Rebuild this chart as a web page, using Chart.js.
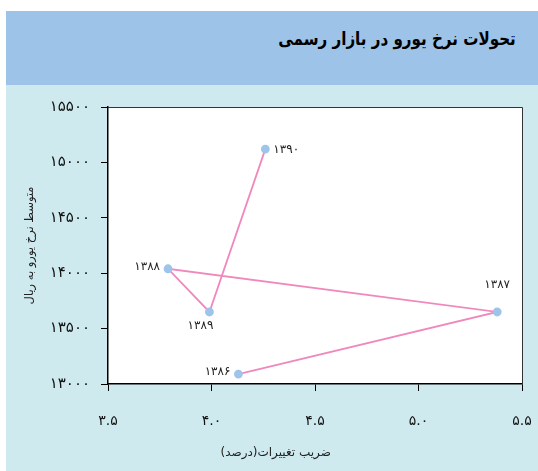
<!DOCTYPE html>
<html lang="fa">
<head>
    <meta charset="UTF-8">
    <title>تحولات نرخ یورو در بازار رسمی</title>
    <script src="https://cdn.jsdelivr.net/npm/chart.js@4.4.1/dist/chart.umd.min.js"></script>
    <style>
        body {
            margin: 0;
            background: #fff;
            font-family: "DejaVu Sans", sans-serif;
        }
        .header {
            position: absolute;
            left: 6px;
            top: 11px;
            width: 532px;
            height: 74px;
            background: #9dc3e8;
        }
        .header h1 {
            position: absolute;
            right: 22px;
            top: 17px;
            margin: 0;
            font-size: 18px;
            line-height: 22px;
            font-weight: bold;
            color: #000;
            direction: rtl;
            white-space: nowrap;
            transform: scaleX(0.84);
            transform-origin: right center;
        }
        .chart-box {
            position: absolute;
            left: 6px;
            top: 85px;
            width: 532px;
            height: 386px;
            background: #cfeaef;
        }
    </style>
</head>
<body>
    <div class="header"><h1>تحولات نرخ یورو در بازار رسمی</h1></div>
    <div class="chart-box">
        <canvas id="euroChart"></canvas>
    </div>

    <script>
        // سال‌ها (به ترتیب اتصال خط)
        const years = ['۱۳۸۶', '۱۳۸۷', '۱۳۸۸', '۱۳۸۹', '۱۳۹۰'];
        // ضریب تغییرات (درصد)
        const cvValues = [4.13, 5.38, 3.79, 3.99, 4.26];
        // متوسط نرخ یورو (ریال)
        const rateValues = [13090, 13650, 14040, 13650, 15120];
        // جای برچسب هر نقطه
        const labelSide = ['left', 'above', 'left', 'below', 'right'];

        const xTicks = [3.5, 4.0, 4.5, 5.0, 5.5];
        const yTicks = [13000, 13500, 14000, 14500, 15000, 15500];

        const xTitle = 'ضریب تغییرات(درصد)';
        const yTitle = 'متوسط نرخ یورو به ریال';

        const faDigits = '۰۱۲۳۴۵۶۷۸۹';
        function toFa(str) {
            return String(str).replace(/[0-9]/g, d => faDigits[d]);
        }

        const points = cvValues.map((x, i) => ({ x: x, y: rateValues[i] }));

        const framePlugin = {
            id: 'frame',
            beforeDraw(chart) {
                const a = chart.chartArea;
                const ctx = chart.ctx;
                ctx.save();
                ctx.fillStyle = '#ffffff';
                ctx.fillRect(a.left, a.top, a.right - a.left, a.bottom - a.top);
                ctx.restore();
            },
            afterDraw(chart) {
                const a = chart.chartArea;
                const ctx = chart.ctx;
                ctx.save();
                ctx.strokeStyle = '#333';
                ctx.lineWidth = 1;
                ctx.beginPath();
                ctx.moveTo(a.left, a.top + 0.5);
                ctx.lineTo(a.right + 0.5, a.top + 0.5);
                ctx.lineTo(a.right + 0.5, a.bottom);
                ctx.stroke();

                // برچسب سال‌ها
                ctx.fillStyle = '#222';
                ctx.font = '12px "DejaVu Sans"';
                const meta = chart.getDatasetMeta(0);
                meta.data.forEach((pt, i) => {
                    const side = labelSide[i];
                    let x = pt.x, y = pt.y;
                    if (side === 'left') {
                        ctx.textAlign = 'right'; ctx.textBaseline = 'middle';
                        x -= 8; y -= 2;
                    } else if (side === 'right') {
                        ctx.textAlign = 'left'; ctx.textBaseline = 'middle';
                        x += 8; y += 1;
                    } else if (side === 'above') {
                        ctx.textAlign = 'center'; ctx.textBaseline = 'middle';
                        y -= 27;
                    } else {
                        ctx.textAlign = 'center'; ctx.textBaseline = 'middle';
                        x -= 9; y += 14;
                    }
                    ctx.fillText(years[i], x, y);
                });

                // عنوان محور افقی
                ctx.font = '12px "DejaVu Sans"';
                ctx.textAlign = 'center';
                ctx.textBaseline = 'middle';
                ctx.fillStyle = '#222';
                ctx.fillText(xTitle, a.left + (a.right - a.left) * 0.405, a.bottom + 69);
                ctx.restore();
            }
        };

        const ctx = document.getElementById('euroChart').getContext('2d');
        new Chart(ctx, {
            type: 'scatter',
            data: {
                datasets: [{
                    data: points,
                    showLine: true,
                    borderColor: '#f088bd',
                    borderWidth: 1.8,
                    pointBackgroundColor: '#9ec4ea',
                    pointBorderColor: '#9ec4ea',
                    pointRadius: 3.5,
                    tension: 0
                }]
            },
            options: {
                responsive: true,
                maintainAspectRatio: false,
                animation: false,
                layout: {
                    padding: { top: 22, right: 16, left: 0, bottom: 0 }
                },
                plugins: {
                    legend: { display: false },
                    tooltip: { enabled: false }
                },
                scales: {
                    x: {
                        type: 'linear',
                        min: xTicks[0],
                        max: xTicks[xTicks.length - 1],
                        afterBuildTicks: s => { s.ticks = xTicks.map(v => ({ value: v })); },
                        afterFit: s => {
                            s.height = 87;
                            s.paddingLeft = 0;
                            s.paddingRight = 0;
                        },
                        grid: {
                            drawOnChartArea: false,
                            drawTicks: true,
                            tickLength: 7,
                            color: '#000'
                        },
                        border: { display: true, color: '#000', width: 1.5 },
                        ticks: {
                            padding: 22,
                            color: '#111',
                            font: { family: 'DejaVu Sans', size: 14 },
                            maxRotation: 0,
                            callback: v => toFa(Number(v).toFixed(1))
                        }
                    },
                    y: {
                        min: yTicks[0],
                        max: yTicks[yTicks.length - 1],
                        afterBuildTicks: s => { s.ticks = yTicks.map(v => ({ value: v })); },
                        afterFit: s => {
                            s.width = 102;
                            s.paddingTop = 0;
                            s.paddingBottom = 0;
                        },
                        grid: {
                            drawOnChartArea: false,
                            drawTicks: true,
                            tickLength: 7,
                            color: '#000'
                        },
                        border: { display: true, color: '#000', width: 1.5 },
                        ticks: {
                            padding: 11,
                            color: '#111',
                            font: { family: 'DejaVu Sans', size: 15 },
                            callback: v => toFa(v)
                        },
                        title: {
                            display: true,
                            text: yTitle,
                            color: '#222',
                            font: { family: 'DejaVu Sans', size: 11.5 },
                            padding: { top: 17, bottom: 0 }
                        }
                    }
                }
            },
            plugins: [framePlugin]
        });
    </script>
</body>
</html>
